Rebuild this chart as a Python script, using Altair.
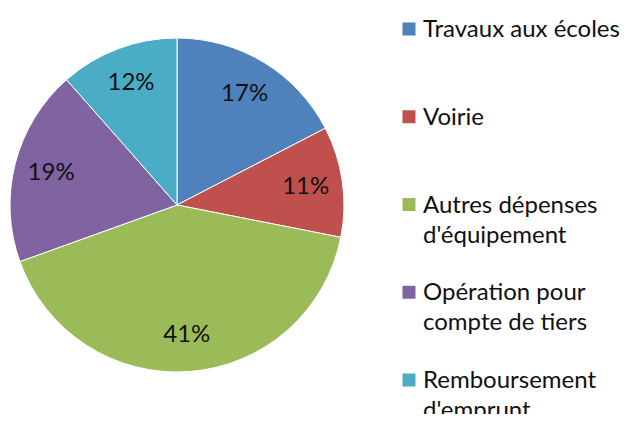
import altair as alt
import pandas as pd

categories = ["Travaux aux écoles", "Voirie", "Autres dépenses d'équipement",
              "Opération pour compte de tiers", "Remboursement d'emprunt"]
legend_labels = ["Travaux aux écoles", "Voirie", "Autres dépenses\nd'équipement",
                 "Opération pour\ncompte de tiers", "Remboursement\nd'emprunt"]
values = [17.4, 10.7, 41.4, 19.0, 11.5]
pct_labels = ["17%", "11%", "41%", "19%", "12%"]
colors = ["#4F81BD", "#C0504D", "#9BBB59", "#8064A2", "#4BACC6"]

df = pd.DataFrame({
    "cat": categories,
    "legend": legend_labels,
    "value": values,
    "pct": pct_labels,
    "idx": list(range(len(categories))),
})

FONT = "Lato"
color = alt.Color("cat:N", scale=alt.Scale(domain=categories, range=colors), legend=None)

base = alt.Chart(df).encode(
    theta=alt.Theta("value:Q", stack=True),
    order=alt.Order("idx:Q"),
)

pie = base.mark_arc(outerRadius=167, stroke="white", strokeWidth=1).encode(
    color=color,
    x=alt.value(169),
    y=alt.value(197),
)

labels = base.mark_text(radius=130, fontSize=24, font=FONT, color="#111111").encode(
    text="pct:N",
    x=alt.value(169),
    y=alt.value(197),
)

ypos = alt.Y("idx:Q", scale=alt.Scale(domain=[0, 4], range=[21, 372]), axis=None)

leg_sq = alt.Chart(df).mark_square(size=169, opacity=1).encode(
    x=alt.value(401),
    y=ypos,
    color=color,
)

leg_txt = alt.Chart(df).mark_text(
    align="left", baseline="alphabetic", dy=8, fontSize=24, font=FONT,
    lineBreak="\n", lineHeight=30, color="#111111",
).encode(
    x=alt.value(415),
    y=ypos,
    text="legend:N",
)

chart = alt.layer(pie, labels, leg_sq, leg_txt).properties(
    width=612, height=406, padding=0,
    autosize=alt.AutoSizeParams(type="none"),
).configure_view(stroke=None)

chart.save("out.html", embed_options={"renderer": "svg", "actions": False})
